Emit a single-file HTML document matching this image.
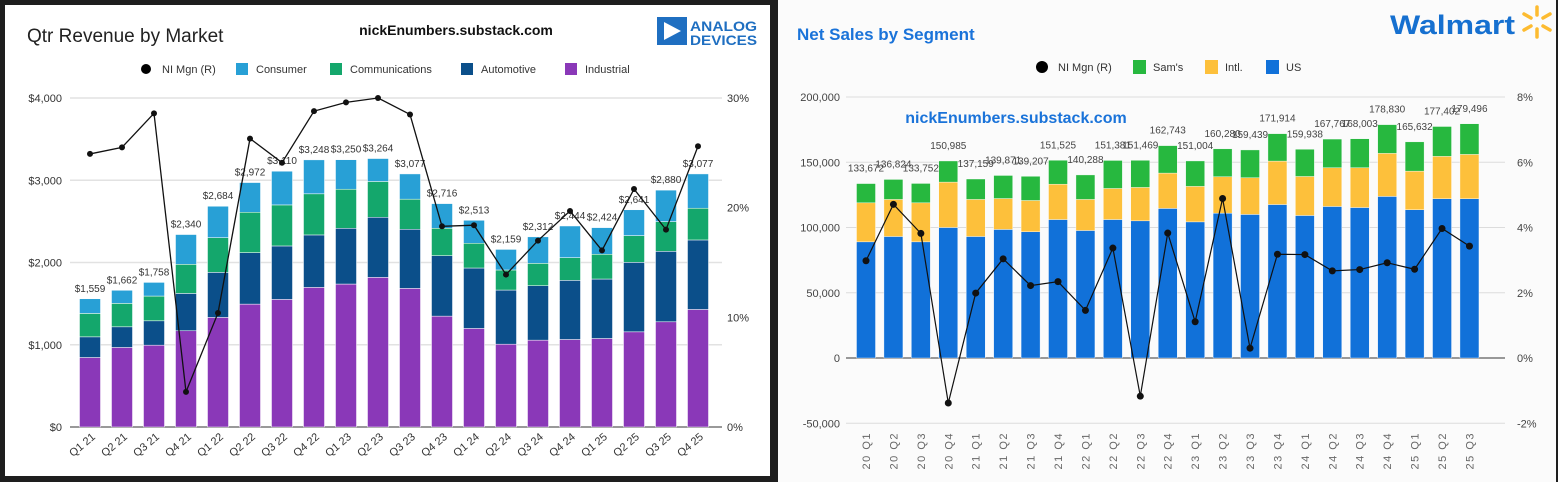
<!DOCTYPE html>
<html><head><meta charset="utf-8"><style>
html,body{margin:0;padding:0;background:#2a2a2a;}
svg{display:block;font-family:"Liberation Sans",sans-serif;}
</style></head><body>
<svg id="c" width="1558" height="482" viewBox="0 0 1558 482">
<rect x="0" y="0" width="1558" height="482" fill="#1e1e1e"/>
<rect x="5" y="5" width="765" height="471" fill="#ffffff"/>
<rect x="778" y="0" width="778" height="482" fill="#fbfbfb"/>
<text x="27" y="42" font-size="19" fill="#222">Qtr Revenue by Market</text>
<text x="456" y="35" font-size="14" font-weight="bold" fill="#111" text-anchor="middle">nickEnumbers.substack.com</text>
<g>
<rect x="657" y="17" width="30" height="28" fill="#1f6fc1"/>
<polygon points="664,22 664,40 681,31" fill="#fff"/>
<text x="690" y="31" font-size="14" font-weight="bold" fill="#1f6fc1" textLength="67" lengthAdjust="spacingAndGlyphs">ANALOG</text>
<text x="690" y="45" font-size="14" font-weight="bold" fill="#1f6fc1" textLength="67" lengthAdjust="spacingAndGlyphs">DEVICES</text>
</g>
<text x="797" y="40" font-size="17" font-weight="bold" fill="#1a73d9">Net Sales by Segment</text>
<g>
<text x="1390" y="34" font-size="27" font-weight="bold" fill="#1670d0" textLength="125" lengthAdjust="spacingAndGlyphs">Walmart</text>
<g stroke="#fdbb30" stroke-width="3.5" stroke-linecap="round">
<line x1="1537" y1="7" x2="1537" y2="15"/><line x1="1537" y1="29" x2="1537" y2="37"/>
<line x1="1524" y1="14" x2="1531" y2="18"/><line x1="1524" y1="30" x2="1531" y2="26"/>
<line x1="1550" y1="14" x2="1543" y2="18"/><line x1="1550" y1="30" x2="1543" y2="26"/>
</g></g>
<text x="1016" y="123" font-size="16" font-weight="bold" fill="#1a73d9" text-anchor="middle">nickEnumbers.substack.com</text>
<g id="L"></g><g id="R"></g>
</svg>
<script>
const adiCats=["Q1 21","Q2 21","Q3 21","Q4 21","Q1 22","Q2 22","Q3 22","Q4 22","Q1 23","Q2 23","Q3 23","Q4 23","Q1 24","Q2 24","Q3 24","Q4 24","Q1 25","Q2 25","Q3 25","Q4 25"];
const adiIndustrial=[845,967,995,1170,1332,1494,1551,1697,1738,1819,1685,1348,1198,1007,1056,1064,1076,1157,1279,1429];
const adiAutomotive=[251,251,296,454,548,626,650,638,678,731,719,735,735,658,662,719,723,845,857,845];
const adiCommunications=[285,285,301,354,422,491,499,500,475,435,366,333,301,244,272,276,301,325,361,386];
const adiTotal=[1559,1662,1758,2340,2684,2972,3110,3248,3250,3264,3077,2716,2513,2159,2312,2444,2424,2641,2880,3077];
const adiMargin=[24.9,25.5,28.6,3.2,10.4,26.3,24.1,28.8,29.6,30.0,28.5,18.3,18.4,13.9,17.0,19.7,16.1,21.7,18.0,25.6];
const adiYTicks=[0,1000,2000,3000,4000];
const adiPTicks=[0,10,20,30];

const wmCats=["20 Q1","20 Q2","20 Q3","20 Q4","21 Q1","21 Q2","21 Q3","21 Q4","22 Q1","22 Q2","22 Q3","22 Q4","23 Q1","23 Q2","23 Q3","23 Q4","24 Q1","24 Q2","24 Q3","24 Q4","25 Q1","25 Q2","25 Q3"];
const wmUS=[89000,93100,89000,100000,93100,98500,96700,106100,97700,106100,105100,114600,104300,111000,110000,117600,109200,116100,115300,123800,113600,122000,122000];
const wmIntl=[29900,28400,29900,34800,28400,23700,24000,27100,23800,23800,25600,27100,27200,27900,28100,33300,29900,29700,30500,33000,29600,32500,34000];
const wmTotal=[133672,136824,133752,150985,137159,139871,139207,151525,140288,151381,151469,162743,151004,160280,159439,171914,159938,167767,168003,178830,165632,177402,179496];
const wmMargin=[2.98,4.71,3.82,-1.38,1.99,3.04,2.22,2.34,1.46,3.37,-1.17,3.83,1.11,4.89,0.30,3.18,3.17,2.67,2.71,2.92,2.72,3.97,3.43];
const wmYTicks=[-50000,0,50000,100000,150000,200000];
const wmPTicks=[-2,0,2,4,6,8];

const NS="http://www.w3.org/2000/svg";
function mk(p,tag,a,txt){const e=document.createElementNS(NS,tag);for(const k in a)e.setAttribute(k,a[k]);if(txt!==undefined)e.textContent=txt;p.appendChild(e);return e;}
const fmt=n=>n.toLocaleString('en-US');

// ADI chart
(function(){
const g=document.getElementById('L');
const x=i=>90+32*i, y=v=>427-v*0.08225, yp=p=>427-p*(329/30), bw=21;
adiYTicks.forEach(t=>{
 const l=mk(g,'line',{x1:70,x2:722,y1:y(t),y2:y(t),stroke:t?'#e2e2e2':'#999','stroke-width':t?1.5:2});
 
 
 const tx=mk(g,'text',{x:62,y:y(t)+4,'font-size':11,fill:'#333','text-anchor':'end'},'$'+fmt(t));
 
 
});
adiPTicks.forEach(t=>{
 const tx=mk(g,'text',{x:727,y:yp(t)+4,'font-size':11,fill:'#333'},t+'%');
 
 
});
adiCats.forEach((c,i)=>{
 const segs=[[adiIndustrial[i],'#8a38b8'],[adiAutomotive[i],'#0b4f8a'],[adiCommunications[i],'#14a76c'],[adiTotal[i]-adiIndustrial[i]-adiAutomotive[i]-adiCommunications[i],'#28a0d6']];
 const names=['industrial','automotive','communications','consumer'];
 let base=0;
 segs.forEach((s,k)=>{
  const r=mk(g,'rect',{x:x(i)-bw/2,y:y(base+s[0]),width:bw,height:y(base)-y(base+s[0]),fill:s[1],stroke:'#fff','stroke-width':0.5});
  
  
  base+=s[0];
 });
 const lb=mk(g,'text',{x:x(i),y:y(adiTotal[i])-7,'font-size':10,fill:'#333','text-anchor':'middle'},'$'+fmt(adiTotal[i]));
 
 
 const xl=mk(g,'text',{x:x(i)+6,y:438,'font-size':11,fill:'#333','text-anchor':'end',transform:`rotate(-40 ${x(i)+6} 438)`},c);
 
 
});
const pl=mk(g,'polyline',{points:adiMargin.map((p,i)=>x(i)+','+yp(p)).join(' '),fill:'none',stroke:'#111','stroke-width':1.3});


adiMargin.forEach((p,i)=>{
 const d=mk(g,'circle',{cx:x(i),cy:yp(p),r:3,fill:'#111'});
 
 
});
const leg=[['dot','NI Mgn (R)',142,'#000'],['sq','Consumer',236,'#28a0d6'],['sq','Communications',330,'#14a76c'],['sq','Automotive',461,'#0b4f8a'],['sq','Industrial',565,'#8a38b8']];
leg.forEach(l=>{
 const lg=mk(g,'g',{});
 
 
 if(l[0]=='dot')mk(lg,'circle',{cx:l[2]+4,cy:69,r:5,fill:l[3]});else mk(lg,'rect',{x:l[2],y:63,width:12,height:12,fill:l[3]});
 mk(lg,'text',{x:l[2]+20,y:73,'font-size':11,fill:'#333'},l[1]);
});
})();

// Walmart chart
(function(){
const g=document.getElementById('R');
const x=i=>866+27.43*i, y=v=>358-v*(261/200000), yp=p=>358-p*(261/8), bw=19;
wmYTicks.forEach(t=>{
 const l=mk(g,'line',{x1:846,x2:1505,y1:y(t),y2:y(t),stroke:t?'#dcdcdc':'#777','stroke-width':t?1:1.5});
 
 
 const tx=mk(g,'text',{x:840,y:y(t)+4,'font-size':11,fill:'#444','text-anchor':'end'},fmt(t));
 
 
});
wmPTicks.forEach(t=>{
 const tx=mk(g,'text',{x:1517,y:yp(t)+4,'font-size':11,fill:'#444'},t+'%');
 
 
});
wmCats.forEach((c,i)=>{
 const segs=[[wmUS[i],'#1171d9','us'],[wmIntl[i],'#fdc03b','intl'],[wmTotal[i]-wmUS[i]-wmIntl[i],'#27b83f','sams']];
 let base=0;
 segs.forEach(s=>{
  const r=mk(g,'rect',{x:x(i)-bw/2,y:y(base+s[0]),width:bw,height:y(base)-y(base+s[0]),fill:s[1],stroke:'#fff','stroke-width':0.4});
  
  
  base+=s[0];
 });
 const lb=mk(g,'text',{x:x(i),y:y(wmTotal[i])-12,'font-size':10,fill:'#444','text-anchor':'middle'},fmt(wmTotal[i]));
 
 
 const xl=mk(g,'text',{x:x(i)+4,y:432,'font-size':11,fill:'#666','text-anchor':'end','letter-spacing':'1.5',transform:`rotate(-90 ${x(i)+4} 432)`},c);
 
 
});
const pl=mk(g,'polyline',{points:wmMargin.map((p,i)=>x(i)+','+yp(p)).join(' '),fill:'none',stroke:'#111','stroke-width':1.2});


wmMargin.forEach((p,i)=>{
 const d=mk(g,'circle',{cx:x(i),cy:yp(p),r:3.5,fill:'#111'});
 
 
});
const leg=[['dot','NI Mgn (R)',1038,'#000'],['sq',"Sam's",1133,'#27b83f'],['sq','Intl.',1205,'#fdc03b'],['sq','US',1266,'#1171d9']];
leg.forEach(l=>{
 const lg=mk(g,'g',{});
 
 
 if(l[0]=='dot')mk(lg,'circle',{cx:l[2]+4,cy:67,r:6,fill:l[3]});else mk(lg,'rect',{x:l[2],y:60,width:13,height:14,fill:l[3]});
 mk(lg,'text',{x:l[2]+20,y:71,'font-size':11,fill:'#333'},l[1]);
});
})();
</script>
</body></html>
